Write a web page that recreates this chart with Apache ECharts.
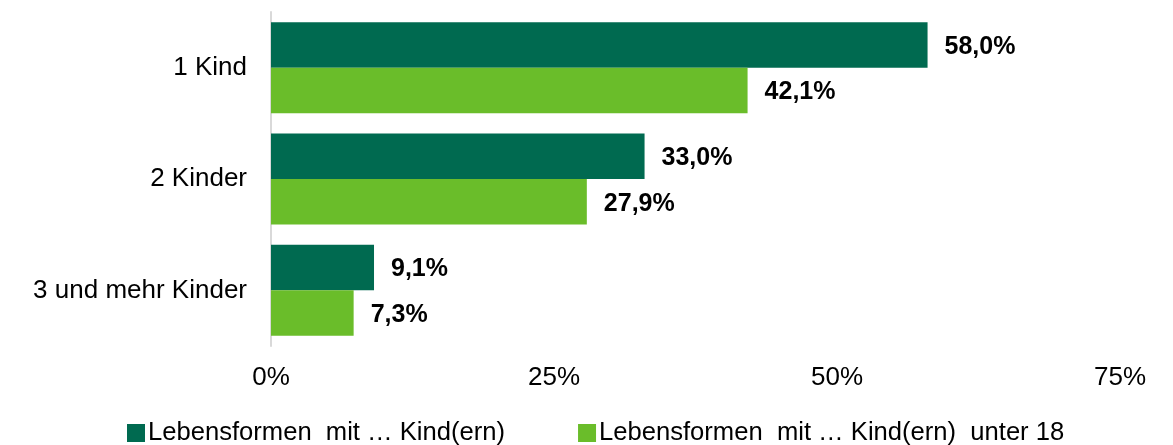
<!DOCTYPE html>
<html>
<head>
<meta charset="utf-8">
<script src="https://cdn.jsdelivr.net/npm/echarts@6/dist/echarts.min.js"></script>
<style>
  html, body { margin: 0; padding: 0; background: #fff; }
  #chart { width: 1173px; height: 445px; }
</style>
</head>
<body>
<div id="chart"></div>
<script>
// Kategorien und Werte (Anteile in %)
var categories = ["1 Kind", "2 Kinder", "3 und mehr Kinder"];
var seriesNames = ["Lebensformen  mit … Kind(ern)", "Lebensformen  mit … Kind(ern)  unter 18"];
var alleKinder = [58.0, 33.0, 9.1];
var unter18 = [42.1, 27.9, 7.3];
var xTicks = [0, 25, 50, 75];

var chart = echarts.init(document.getElementById("chart"));

function fmt(v) {
  return v.toFixed(1).replace(".", ",") + "%";
}

var labelStyle = {
  show: true,
  position: "right",
  distance: 17,
  offset: [0, 2],
  fontFamily: "Liberation Sans, Arial, sans-serif",
  fontSize: 25,
  fontWeight: "bold",
  color: "#000",
  formatter: function (p) { return fmt(p.value); }
};

chart.setOption({
  animation: false,
  color: ["#006A50", "#6ABD2A"],
  grid: { left: 271, right: 53, top: 12, bottom: 99, containLabel: false },
  legend: {
    top: 420,
    left: 127,
    padding: 0,
    itemGap: 73,
    itemWidth: 18,
    itemHeight: 18,
    icon: "rect",
    textStyle: {
      fontFamily: "Liberation Sans, Arial, sans-serif",
      fontSize: 25.6,
      color: "#000",
      padding: [0, 0, 0, -2]
    },
    data: seriesNames
  },
  xAxis: {
    type: "value",
    min: 0,
    max: 75,
    interval: 25,
    splitLine: { show: false },
    axisLine: { show: false },
    axisTick: { show: false },
    axisLabel: {
      margin: 19,
      fontFamily: "Liberation Sans, Arial, sans-serif",
      fontSize: 26,
      color: "#000",
      formatter: function (v) { return xTicks.indexOf(v) >= 0 ? v + "%" : ""; }
    }
  },
  yAxis: {
    type: "category",
    inverse: true,
    data: categories,
    axisLine: { show: true, lineStyle: { color: "#d9d9d9", width: 2 } },
    axisTick: { show: false },
    axisLabel: {
      margin: 24,
      fontFamily: "Liberation Sans, Arial, sans-serif",
      fontSize: 26,
      color: "#000"
    }
  },
  series: [
    {
      name: seriesNames[0],
      type: "bar",
      data: alleKinder,
      barGap: "0%",
      barCategoryGap: "18.3%",
      label: labelStyle
    },
    {
      name: seriesNames[1],
      type: "bar",
      data: unter18,
      barGap: "0%",
      barCategoryGap: "18.3%",
      label: labelStyle
    }
  ]
});
</script>
</body>
</html>
